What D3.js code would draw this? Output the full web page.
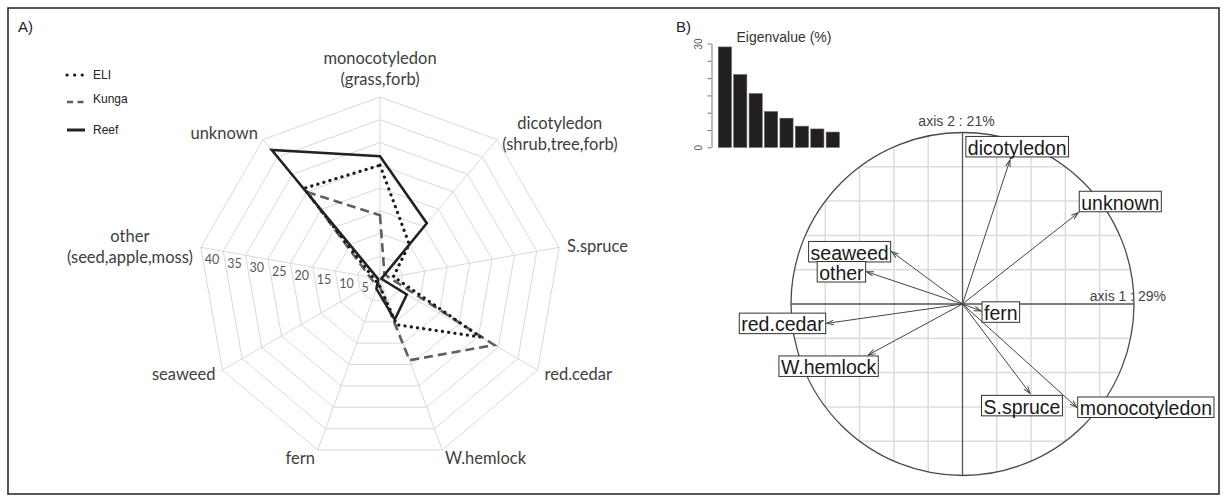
<!DOCTYPE html>
<html>
<head>
<meta charset="utf-8">
<script src="https://cdn.jsdelivr.net/npm/d3@7"></script>
<style>
  body { margin: 0; background: #fff; }
  svg { display: block; }
</style>
</head>
<body>
<svg id="fig" width="1227" height="502"></svg>
<script>
// ---------- Panel A: diet composition radar (% of diet) ----------
const radarCategories = [
  ["monocotyledon", "(grass,forb)"],
  ["dicotyledon", "(shrub,tree,forb)"],
  ["S.spruce"],
  ["red.cedar"],
  ["W.hemlock"],
  ["fern"],
  ["seaweed"],
  ["other", "(seed,apple,moss)"],
  ["unknown"]
];
const radarTicks = [5, 10, 15, 20, 25, 30, 35, 40];
const seriesNames = ["ELI", "Kunga", "Reef"];
const eliValues   = [25, 10, 3, 25.5, 10.7, 1, 1, 1.5, 26];
const kungaValues = [14, 1.5, 2, 29, 19, 1, 1.5, 2.2, 25];
const reefValues  = [27, 16, 0.3, 6.8, 9.5, 2.3, 0.5, 0.5, 37];

// ---------- Panel B: PCA eigenvalues and correlation circle ----------
const eigenValues = [29, 21, 15.5, 10.3, 8.4, 6.1, 5.3, 4.4];
const eigenTicks = [0, 5, 10, 15, 20, 25, 30];
const eigenTickLabels = ["0", "", "", "", "", "", "30"];
const corVariables = ["dicotyledon", "unknown", "seaweed", "other", "fern",
                      "red.cedar", "W.hemlock", "S.spruce", "monocotyledon"];
const corAxis1 = [0.277, 0.675, -0.413, -0.559, 0.108, -0.792, -0.549, 0.394, 0.666];
const corAxis2 = [0.840, 0.532, 0.305, 0.188, -0.041, -0.113, -0.297, -0.521, -0.602];

const svg = d3.select("#fig");

// outer frame
svg.append("rect").attr("x", 8).attr("y", 8).attr("width", 1211).attr("height", 486)
  .attr("fill", "none").attr("stroke", "#222").attr("stroke-width", 1.5);

svg.append("text").attr("x", 18).attr("y", 32).text("A)")
  .style("font", "15px 'Liberation Sans', Arial, sans-serif").attr("fill", "#222");
svg.append("text").attr("x", 676).attr("y", 32).text("B)")
  .style("font", "15px 'Liberation Sans', Arial, sans-serif").attr("fill", "#222");

// ================= Radar =================
const cx = 380, cy = 279, R = 182;
const rScale = d3.scaleLinear().domain([0, 40]).range([0, R]);
const nCat = radarCategories.length;
const angleOf = i => i * 2 * Math.PI / nCat;

const radar = svg.append("g").attr("transform", `translate(${cx},${cy})`);

// rings
const ringLine = d3.lineRadial()
  .angle((d, i) => angleOf(i))
  .radius(d => rScale(d))
  .curve(d3.curveLinearClosed);
radar.selectAll("path.ring").data(radarTicks).join("path")
  .attr("class", "ring")
  .attr("d", t => ringLine(d3.range(nCat).map(() => t)))
  .attr("fill", "none").attr("stroke", "#d9d9d9").attr("stroke-width", 1);

// spokes
radar.selectAll("line.spoke").data(d3.range(nCat)).join("line")
  .attr("class", "spoke")
  .attr("x1", 0).attr("y1", 0)
  .attr("x2", i => Math.sin(angleOf(i)) * rScale(40))
  .attr("y2", i => -Math.cos(angleOf(i)) * rScale(40))
  .attr("stroke", "#d9d9d9").attr("stroke-width", 1);

// tick labels along the "other" spoke
const tickAxis = 7;
radar.selectAll("text.tick").data(radarTicks).join("text")
  .attr("class", "tick")
  .attr("x", t => Math.sin(angleOf(tickAxis)) * rScale(t) + 4)
  .attr("y", t => -Math.cos(angleOf(tickAxis)) * rScale(t) + 12)
  .attr("dominant-baseline", "central")
  .attr("text-anchor", "start")
  .style("font", "12.5px Lato, 'Open Sans', sans-serif")
  .attr("fill", "#595959")
  .text(t => t);

// category labels
const labelFont = "16.5px Lato, 'Open Sans', sans-serif";
const lineH = 21;
radarCategories.forEach((lines, i) => {
  const a = angleOf(i);
  const s = Math.sin(a), c = -Math.cos(a);
  const ax = s * (R + 8), ay = c * (R + 8);
  const g = radar.append("g");
  const t = g.append("text").attr("text-anchor", "middle")
    .style("font", labelFont).attr("fill", "#404040");
  lines.forEach((ln, k) => t.append("tspan").attr("x", 0).attr("y", k * lineH).text(ln));
  const bb = t.node().getBBox();
  let dx, dy;
  if (Math.abs(s) < 0.1) dx = -(bb.x + bb.width / 2);
  else if (s > 0) dx = -bb.x;
  else dx = -(bb.x + bb.width);
  if (c < -0.95) dy = -(bb.y + bb.height);
  else dy = -(bb.y + bb.height / 2);
  g.attr("transform", `translate(${ax + dx},${ay + dy})`);
});

// series polygons
const seriesValues = { ELI: eliValues, Kunga: kungaValues, Reef: reefValues };
const seriesStyle = {
  ELI:   { color: "#1a1a1a", width: 3.2, dash: "0.1 6.2", cap: "round" },
  Kunga: { color: "#5f5f5f", width: 2.6, dash: "9 5", cap: "butt" },
  Reef:  { color: "#222222", width: 2.6, dash: null, cap: "butt" }
};
const seriesLine = d3.lineRadial()
  .angle((d, i) => angleOf(i))
  .radius(d => rScale(d))
  .curve(d3.curveLinearClosed);
["Kunga", "ELI", "Reef"].forEach(name => {
  const st = seriesStyle[name];
  radar.append("path")
    .attr("d", seriesLine(seriesValues[name]))
    .attr("fill", "none")
    .attr("stroke", st.color)
    .attr("stroke-width", st.width)
    .attr("stroke-dasharray", st.dash)
    .attr("stroke-linecap", st.cap)
    .attr("stroke-linejoin", "miter");
});

// legend
const legend = svg.append("g");
const legendY = [75, 102, 130];
seriesNames.forEach((name, i) => {
  const st = seriesStyle[name];
  legend.append("line")
    .attr("x1", 67).attr("x2", name === "ELI" ? 84 : 85)
    .attr("y1", legendY[i]).attr("y2", legendY[i])
    .attr("stroke", st.color)
    .attr("stroke-width", name === "Reef" ? 3 : st.width)
    .attr("stroke-dasharray", name === "Kunga" ? "6 4.5" : (name === "ELI" ? "0.1 7.5" : null))
    .attr("stroke-linecap", st.cap);
  legend.append("text")
    .attr("x", 93).attr("y", legendY[i] - (name === "Kunga" ? 3 : 0))
    .attr("dominant-baseline", "central")
    .style("font", "12px 'Liberation Sans', Arial, sans-serif")
    .attr("fill", "#222")
    .text(name);
});

// ================= Eigenvalue bar chart =================
const xb = d3.scaleBand().domain(d3.range(eigenValues.length))
  .range([718.3, 839.3]).paddingInner(0.15).paddingOuter(0);
const yb = d3.scaleLinear().domain([0, 30]).range([147.3, 43.5]);

svg.append("g").selectAll("rect").data(eigenValues).join("rect")
  .attr("x", (d, i) => xb(i))
  .attr("y", d => yb(d))
  .attr("width", xb.bandwidth())
  .attr("height", d => yb(0) - yb(d))
  .attr("fill", "#231f20")
  .attr("stroke", "#555").attr("stroke-width", 0.6);

const yAxis = svg.append("g").attr("transform", "translate(711.5,0)")
  .call(d3.axisLeft(yb).tickValues(eigenTicks).tickSize(4).tickSizeOuter(0)
    .tickFormat((d, i) => eigenTickLabels[i]));
yAxis.select(".domain").attr("stroke", "#777");
yAxis.selectAll(".tick line").attr("stroke", "#777");
yAxis.selectAll(".tick text")
  .attr("x", null).attr("dy", null)
  .attr("text-anchor", "middle")
  .attr("transform", "translate(-10,0) rotate(-90)")
  .attr("dy", "0.0em")
  .style("font", "10px 'Liberation Sans', Arial, sans-serif")
  .attr("fill", "#555");

svg.append("text").attr("x", 784).attr("y", 42).attr("text-anchor", "middle")
  .style("font", "14px 'Liberation Sans', Arial, sans-serif").attr("fill", "#333")
  .text("Eigenvalue (%)");

// ================= Correlation circle =================
const ccx = 962.5, ccy = 304, CR = 171.5;
const xc = d3.scaleLinear().domain([-1, 1]).range([ccx - CR, ccx + CR]);
const yc = d3.scaleLinear().domain([-1, 1]).range([ccy + CR, ccy - CR]);
const circ = svg.append("g");

// grid clipped to the unit circle
const gridVals = [-0.8, -0.6, -0.4, -0.2, 0.2, 0.4, 0.6, 0.8];
gridVals.forEach(v => {
  const h = Math.sqrt(1 - v * v);
  circ.append("line").attr("x1", xc(v)).attr("x2", xc(v)).attr("y1", yc(-h)).attr("y2", yc(h))
    .attr("stroke", "#dcdcdc").attr("stroke-width", 1.5);
  circ.append("line").attr("x1", xc(-h)).attr("x2", xc(h)).attr("y1", yc(v)).attr("y2", yc(v))
    .attr("stroke", "#dcdcdc").attr("stroke-width", 1.5);
});

circ.append("circle").attr("cx", xc(0)).attr("cy", yc(0)).attr("r", xc(1) - xc(0))
  .attr("fill", "none").attr("stroke", "#4a4a4a").attr("stroke-width", 1.3);
circ.append("line").attr("x1", xc(-1)).attr("x2", xc(1)).attr("y1", yc(0)).attr("y2", yc(0))
  .attr("stroke", "#555").attr("stroke-width", 1.3);
circ.append("line").attr("x1", xc(0)).attr("x2", xc(0)).attr("y1", yc(-1)).attr("y2", yc(1))
  .attr("stroke", "#555").attr("stroke-width", 1.3);

svg.append("text").attr("x", xc(1) + 32).attr("y", yc(0) - 3).attr("text-anchor", "end")
  .style("font", "14px 'Liberation Sans', Arial, sans-serif").attr("fill", "#444")
  .text(`axis 1 : ${eigenValues[0]}%`);
svg.append("text").attr("x", xc(0) - 6).attr("y", yc(1) - 7).attr("text-anchor", "middle")
  .style("font", "14px 'Liberation Sans', Arial, sans-serif").attr("fill", "#444")
  .text(`axis 2 : ${eigenValues[1]}%`);

// arrowheads
svg.append("defs").append("marker")
  .attr("id", "arrowhead").attr("viewBox", "-10 -5 12 10")
  .attr("refX", 0).attr("refY", 0)
  .attr("markerWidth", 12).attr("markerHeight", 10)
  .attr("markerUnits", "userSpaceOnUse").attr("orient", "auto")
  .append("path").attr("d", "M-7,-2.3L0,0L-7,2.3")
  .attr("fill", "none").attr("stroke", "#444").attr("stroke-width", 1);

circ.selectAll("line.arrow").data(corVariables).join("line")
  .attr("class", "arrow")
  .attr("x1", xc(0)).attr("y1", yc(0))
  .attr("x2", (d, i) => xc(corAxis1[i]))
  .attr("y2", (d, i) => yc(corAxis2[i]))
  .attr("stroke", "#444").attr("stroke-width", 1)
  .attr("marker-end", "url(#arrowhead)");

// label boxes: which point of the box sits at the arrow tip (fraction of width, height)
const labelAnchor = {
  "dicotyledon": [0.43, 1, -3],
  "unknown": [0, 1, -1],
  "seaweed": [1, 0.5, 0],
  "other": [1, 0.5, 0],
  "fern": [0, 0.45, 0],
  "red.cedar": [1, 0.5, 0],
  "W.hemlock": [0.9, 0, 1],
  "S.spruce": [0.6, 0, 2],
  "monocotyledon": [0, 0.5, 0]
};
const boxFont = "19.5px 'Liberation Sans', Arial, sans-serif";
const boxH = 20.5;
corVariables.forEach((name, i) => {
  const tx = xc(corAxis1[i]), ty = yc(corAxis2[i]);
  const g = circ.append("g");
  const rect = g.append("rect").attr("fill", "#fff").attr("stroke", "#333").attr("stroke-width", 1);
  const t = g.append("text").attr("text-anchor", "middle").attr("dominant-baseline", "central")
    .style("font", boxFont).attr("fill", "#1a1a1a").text(name);
  const w = t.node().getComputedTextLength() + 4;
  const [fx, fy, off] = labelAnchor[name];
  const bx = tx - fx * w + (fx === 0 ? 1 : fx === 1 ? -1 : 0);
  const by = ty - fy * boxH + off;
  rect.attr("x", bx).attr("y", by).attr("width", w).attr("height", boxH);
  t.attr("x", bx + w / 2).attr("y", by + boxH / 2 + 1);
});
</script>
</body>
</html>
